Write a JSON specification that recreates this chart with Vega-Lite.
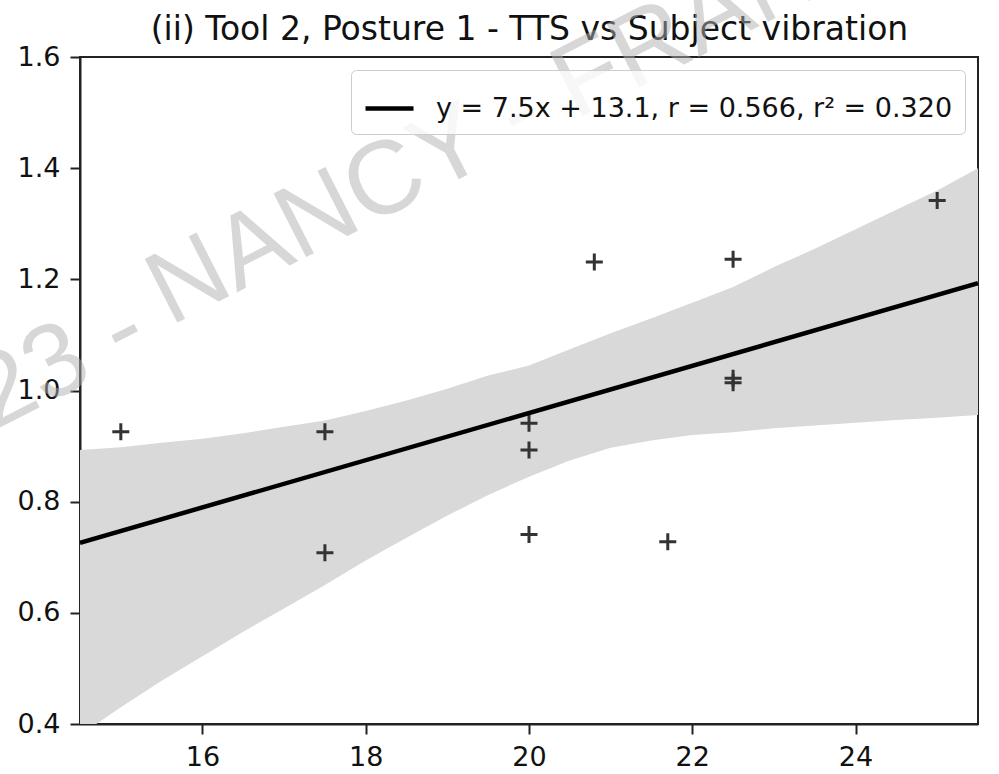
{
  "$schema": "https://vega.github.io/schema/vega-lite/v6.json",
  "width": 898,
  "height": 667,
  "autosize": "none",
  "padding": {"left": 80, "top": 57, "right": 21, "bottom": 50},
  "background": "white",
  "config": {
    "view": {"stroke": "#222222", "strokeWidth": 2},
    "axis": {
      "grid": false,
      "title": null,
      "domainColor": "#222222",
      "domainWidth": 2,
      "tickColor": "#222222",
      "tickWidth": 2,
      "tickSize": 10,
      "labelFont": "DejaVu Sans",
      "labelFontSize": 27,
      "labelColor": "#111111"
    },
    "legend": {
      "orient": "top-right",
      "offset": 13,
      "fillColor": "rgba(255,255,255,0.8)",
      "strokeColor": "#cccccc",
      "cornerRadius": 5,
      "padding": 12,
      "symbolType": "stroke",
      "symbolSize": 2304,
      "symbolStrokeWidth": 4.5,
      "symbolStrokeColor": "black",
      "labelFont": "DejaVu Sans",
      "labelFontSize": 27,
      "labelColor": "#111111",
      "labelOffset": 20,
      "labelLimit": 0,
      "title": null
    }
  },
  "resolve": {"axis": {"x": "independent"}},
  "datasets": {
    "points": [
      {"x": 15.0, "y": 0.926},
      {"x": 17.5, "y": 0.926},
      {"x": 17.5, "y": 0.708},
      {"x": 20.0, "y": 0.941},
      {"x": 20.0, "y": 0.893},
      {"x": 20.0, "y": 0.741},
      {"x": 20.8, "y": 1.231},
      {"x": 21.7, "y": 0.728},
      {"x": 22.5, "y": 1.236},
      {"x": 22.5, "y": 1.022},
      {"x": 22.5, "y": 1.014},
      {"x": 25.0, "y": 1.342}
    ],
    "band": [
      {"x": 14.5, "lo": 0.38, "hi": 0.893},
      {"x": 15.0, "lo": 0.43, "hi": 0.898},
      {"x": 15.5, "lo": 0.478, "hi": 0.906},
      {"x": 16.0, "lo": 0.522, "hi": 0.913},
      {"x": 16.5, "lo": 0.566, "hi": 0.923},
      {"x": 17.0, "lo": 0.608, "hi": 0.935},
      {"x": 17.5, "lo": 0.65, "hi": 0.946},
      {"x": 18.0, "lo": 0.694, "hi": 0.963},
      {"x": 18.5, "lo": 0.735, "hi": 0.982},
      {"x": 19.0, "lo": 0.775, "hi": 1.003},
      {"x": 19.5, "lo": 0.812, "hi": 1.027},
      {"x": 20.0, "lo": 0.845, "hi": 1.045},
      {"x": 20.5, "lo": 0.874, "hi": 1.074},
      {"x": 21.0, "lo": 0.897, "hi": 1.103},
      {"x": 21.5, "lo": 0.91, "hi": 1.13},
      {"x": 22.0, "lo": 0.92, "hi": 1.158},
      {"x": 22.5, "lo": 0.925, "hi": 1.186},
      {"x": 23.0, "lo": 0.932, "hi": 1.222},
      {"x": 23.5, "lo": 0.937, "hi": 1.255},
      {"x": 24.0, "lo": 0.942, "hi": 1.29},
      {"x": 24.5, "lo": 0.947, "hi": 1.325},
      {"x": 25.0, "lo": 0.951, "hi": 1.36},
      {"x": 25.5, "lo": 0.956, "hi": 1.4}
    ],
    "fit": [
      {"x": 14.5, "y": 0.726, "series": "y = 7.5x + 13.1, r = 0.566, r² = 0.320"},
      {"x": 25.5, "y": 1.193, "series": "y = 7.5x + 13.1, r = 0.566, r² = 0.320"}
    ]
  },
  "layer": [
    {
      "data": {"name": "band"},
      "mark": {"type": "area", "color": "#d9d9d9", "clip": true},
      "encoding": {
        "x": {
          "field": "x", "type": "quantitative",
          "scale": {"domain": [14.5, 25.5], "nice": false, "zero": false},
          "axis": {"values": [16, 18, 20, 22, 24], "format": "d", "labelPadding": 10}
        },
        "y": {
          "field": "lo", "type": "quantitative",
          "scale": {"domain": [0.4, 1.6], "nice": false, "zero": false},
          "axis": {"values": [0.4, 0.6, 0.8, 1.0, 1.2, 1.4, 1.6], "format": ".1f", "labelPadding": 10}
        },
        "y2": {"field": "hi"}
      }
    },
    {
      "data": {"name": "points"},
      "mark": {"type": "point", "shape": "M-1,0H1M0,-1V1", "filled": false, "stroke": "#333333", "strokeWidth": 3, "size": 289, "opacity": 1},
      "encoding": {
        "x": {
          "field": "x", "type": "quantitative",
          "axis": {
            "orient": "top", "title": "(ii) Tool 2, Posture 1 - TTS vs Subject vibration",
            "labels": false, "ticks": false, "domain": false,
            "titleFont": "DejaVu Sans", "titleFontSize": 33, "titleFontWeight": "normal",
            "titleColor": "#111111", "titleBaseline": "alphabetic", "titlePadding": 18
          }
        },
        "y": {"field": "y", "type": "quantitative"}
      }
    },
    {
      "data": {"name": "fit"},
      "mark": {"type": "line", "strokeWidth": 4.5, "clip": true},
      "encoding": {
        "x": {"field": "x", "type": "quantitative", "axis": null},
        "y": {"field": "y", "type": "quantitative"},
        "color": {"field": "series", "type": "nominal", "scale": {"range": ["black"]}}
      }
    },
    {
      "data": {"values": [{}]},
      "mark": {"type": "text", "text": "NANCY - FRANCE", "align": "left", "baseline": "alphabetic", "angle": -27, "font": "Liberation Sans", "fontSize": 104, "color": "#b0b0b0", "opacity": 0.5},
      "encoding": {
        "x": {"datum": 15.6, "type": "quantitative", "axis": null},
        "y": {"datum": 1.115, "type": "quantitative"}
      }
    },
    {
      "data": {"values": [{}]},
      "mark": {"type": "text", "text": "2023 -", "align": "right", "baseline": "alphabetic", "angle": -27, "dx": -26, "dy": 13, "font": "Liberation Sans", "fontSize": 104, "color": "#b0b0b0", "opacity": 0.5},
      "encoding": {
        "x": {"datum": 15.6, "type": "quantitative", "axis": null},
        "y": {"datum": 1.115, "type": "quantitative"}
      }
    }
  ]
}
